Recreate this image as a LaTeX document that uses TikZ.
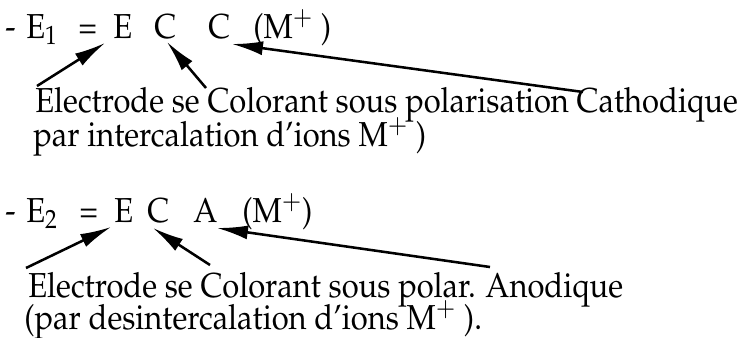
\documentclass[tikz,border=0pt]{standalone}
\usepackage[T1]{fontenc}
\usepackage{mathpazo}
\usepackage{graphicx}
\usetikzlibrary{arrows.meta,calc}
\newcommand{\tall}[1]{\scalebox{1}[1.12]{#1}}

\begin{document}
\begin{tikzpicture}[x=0.025cm,y=-0.025cm,
  txt/.style={inner sep=0pt,anchor=base west,font=\fontsize{22}{26}\selectfont},
  ptr/.style={->,line width=1.8pt,>={Latex[length=22pt,width=10pt]}}]
\useasboundingbox (0,0) rectangle (747,337);
% first electrode
\node[txt] (dashA) at (5,38) {\tall{-}};
\node[txt] (eOne) at (26,38) {\tall{E$_1$}};
\node[txt] (eqA) at (78,38) {\tall{=}};
\node[txt] (eA) at (113,38) {\tall{E}};
\node[txt] (cA) at (154,38) {\tall{C}};
\node[txt] (cB) at (208,38) {\tall{C}};
\node[txt] (ionA) at (253,38) {\tall{(M$^+$ )}};
\node[txt] (descA) at (35,112) {\tall{Electrode se Colorant sous polarisation Cathodique}};
\node[txt] (descB) at (33,146) {\tall{par intercalation d'ions M$^+$ )}};
\coordinate (tA) at (37,86);
\coordinate (tB) at (206,88);
\coordinate (tC) at (583,92);
\draw[ptr] (tA) -- ($(eA.base west)+(-8,5)$);
\draw[ptr] (tB) -- ($(cA.base west)+(13,4)$);
\draw[ptr] (tC) -- ($(cB.base west)+(24,6)$);
% second electrode
\node[txt] (dashB) at (5,222) {\tall{-}};
\node[txt] (eTwo) at (26,222) {\tall{E$_2$}};
\node[txt] (eqB) at (79,222) {\tall{=}};
\node[txt] (eB) at (114,222) {\tall{E}};
\node[txt] (cC) at (147,222) {\tall{C}};
\node[txt] (aA) at (193,222) {\tall{A}};
\node[txt] (ionB) at (242,222) {\tall{(M$^+$)}};
\node[txt] (descC) at (28,297) {\tall{Electrode se Colorant sous polar. Anodique}};
\node[txt] (descD) at (24,329) {\tall{(par desintercalation d'ions M$^+$ ).}};
\coordinate (tD) at (26,268);
\coordinate (tE) at (210,265);
\coordinate (tF) at (490,267);
\draw[ptr] (tD) -- ($(eB.base west)+(-3,5)$);
\draw[ptr] (tE) -- ($(cC.base west)+(6,6)$);
\draw[ptr] (tF) -- ($(aA.base west)+(24,6)$);
\end{tikzpicture}
\end{document}
